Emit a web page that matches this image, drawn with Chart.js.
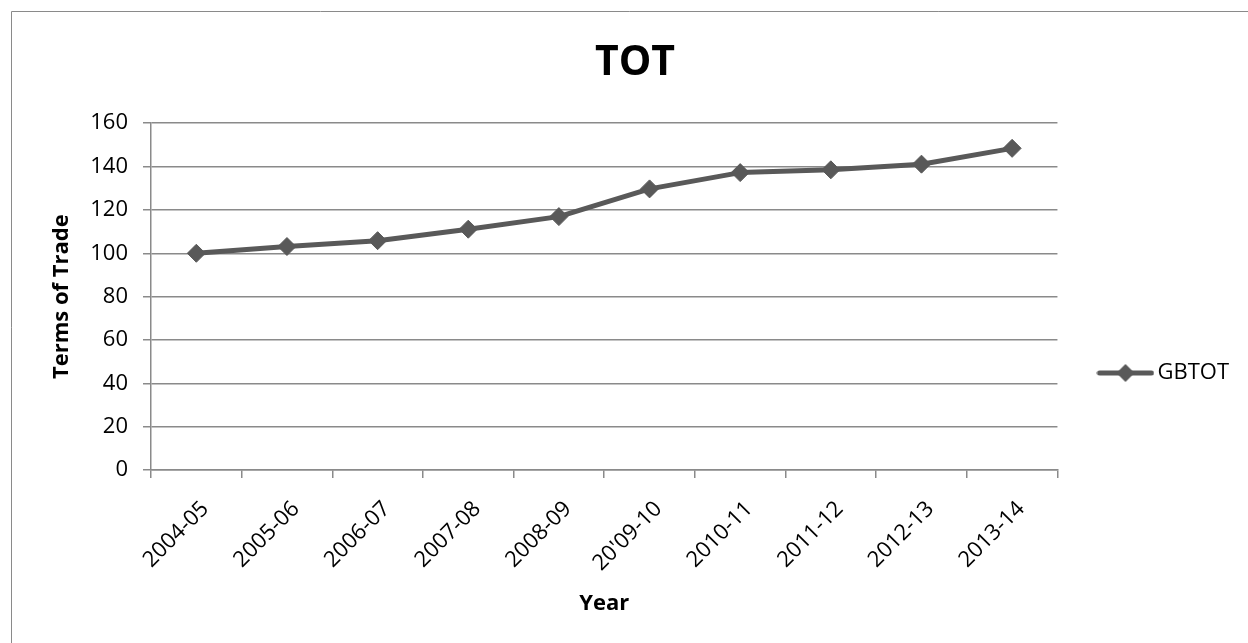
<!DOCTYPE html>
<html>
<head>
<meta charset="utf-8">
<title>TOT</title>
<script src="https://cdn.jsdelivr.net/npm/chart.js@4/dist/chart.umd.min.js"></script>
<style>
  html, body { margin: 0; padding: 0; background: #fff; overflow: hidden; }
  #wrap { position: relative; width: 1248px; height: 643px; }
  canvas { display: block; }
</style>
</head>
<body>
<div id="wrap"><canvas id="chart" width="1248" height="643"></canvas></div>
<script>
// Fiscal years on the category axis
const years = ['2004-05', '2005-06', '2006-07', '2007-08', '2008-09',
               "20'09-10", '2010-11', '2011-12', '2012-13', '2013-14'];
// Terms of trade index (2004-05 = 100)
const gbtot = [100, 103.1, 105.8, 111.1, 116.9, 129.7, 137.2, 138.5, 141.1, 148.4];
// Value axis range and step
const yMin = 0;
const yMax = 160;
const yStep = 20;

const LINE = '#595959';
const GRID = '#8a8a8a';
const FONT = "'Open Sans', 'Liberation Sans', sans-serif";

// Geometry of the plot and surrounding boxes
const PAD_LEFT = 31;
const PAD_RIGHT = 9;
const PLOT_LEFT = 151;
const PLOT_BOTTOM = 470;
const LEGEND_CENTER_Y = 373;

// Legend swatch: a short thick line with a diamond marker
function legendSwatch() {
  const c = document.createElement('canvas');
  c.width = 58; c.height = 22;
  const g = c.getContext('2d');
  g.strokeStyle = LINE;
  g.lineWidth = 5;
  g.lineCap = 'round';
  g.beginPath(); g.moveTo(3, 11); g.lineTo(55, 11); g.stroke();
  g.fillStyle = LINE;
  g.beginPath();
  g.moveTo(20, 11); g.lineTo(29, 2); g.lineTo(38, 11); g.lineTo(29, 20);
  g.closePath(); g.fill();
  return c;
}

// Frame around the chart object, and vertical placement of the legend
const chartFrame = {
  id: 'chartFrame',
  afterLayout(chart) {
    const lg = chart.legend;
    if (lg) {
      const dy = LEGEND_CENTER_Y - (lg.top + lg.bottom) / 2;
      lg.top += dy;
      lg.bottom += dy;
    }
  },
  beforeDraw(chart) {
    const ctx = chart.ctx;
    ctx.save();
    ctx.strokeStyle = GRID;
    ctx.lineWidth = 1;
    ctx.beginPath();
    ctx.moveTo(11.5, chart.height);
    ctx.lineTo(11.5, 11.5);
    ctx.lineTo(chart.width, 11.5);
    ctx.stroke();
    ctx.restore();
  }
};

Chart.defaults.font.family = FONT;
Chart.defaults.color = '#000';

new Chart(document.getElementById('chart'), {
  type: 'line',
  data: {
    labels: years,
    datasets: [{
      label: 'GBTOT',
      data: gbtot,
      borderColor: LINE,
      backgroundColor: LINE,
      borderWidth: 5,
      borderJoinStyle: 'round',
      borderCapStyle: 'round',
      tension: 0,
      pointStyle: 'rectRot',
      pointRadius: 9,
      pointHoverRadius: 9,
      pointBackgroundColor: LINE,
      pointBorderColor: LINE,
      pointBorderWidth: 1,
      clip: false
    }]
  },
  options: {
    responsive: false,
    animation: false,
    devicePixelRatio: 1,
    layout: { padding: { left: PAD_LEFT, right: PAD_RIGHT, top: 0, bottom: 0 } },
    plugins: {
      title: {
        display: true,
        text: 'TOT',
        color: '#000',
        font: { family: FONT, size: 41, weight: 'bold' },
        padding: { top: 39, bottom: 35 }
      },
      legend: {
        position: 'right',
        labels: {
          usePointStyle: true,
          pointStyle: legendSwatch(),
          pointStyleWidth: 42,
          padding: 47,
          color: '#000',
          font: { family: FONT, size: 22 }
        }
      },
      tooltip: { enabled: false }
    },
    scales: {
      x: {
        type: 'category',
        offset: true,
        grid: {
          display: true,
          drawOnChartArea: false,
          drawTicks: true,
          tickLength: 8,
          offset: true,
          color: GRID,
          lineWidth: 1.5
        },
        border: { display: true, color: GRID, width: 1.5 },
        ticks: {
          autoSkip: false,
          minRotation: 45,
          maxRotation: 45,
          padding: 18,
          labelOffset: 9,
          color: '#000',
          font: { family: FONT, size: 22 }
        },
        title: {
          display: true,
          text: 'Year',
          color: '#000',
          font: { family: FONT, size: 22, weight: 'bold' },
          padding: { top: 0, bottom: 26 }
        },
        afterFit(scale) { scale.height = scale.chart.height - PLOT_BOTTOM; }
      },
      y: {
        min: yMin,
        max: yMax,
        grid: {
          color: GRID,
          lineWidth: 1.5,
          drawTicks: true,
          tickLength: 8
        },
        border: { display: true, color: GRID, width: 1.5 },
        ticks: {
          stepSize: yStep,
          padding: 15,
          color: '#000',
          font: { family: FONT, size: 22 }
        },
        title: {
          display: true,
          text: 'Terms of Trade',
          color: '#000',
          font: { family: FONT, size: 22, weight: 'bold' },
          padding: { top: 18, bottom: 0 }
        },
        afterFit(scale) { scale.width = PLOT_LEFT - PAD_LEFT; }
      }
    }
  },
  plugins: [chartFrame]
});
</script>
</body>
</html>
